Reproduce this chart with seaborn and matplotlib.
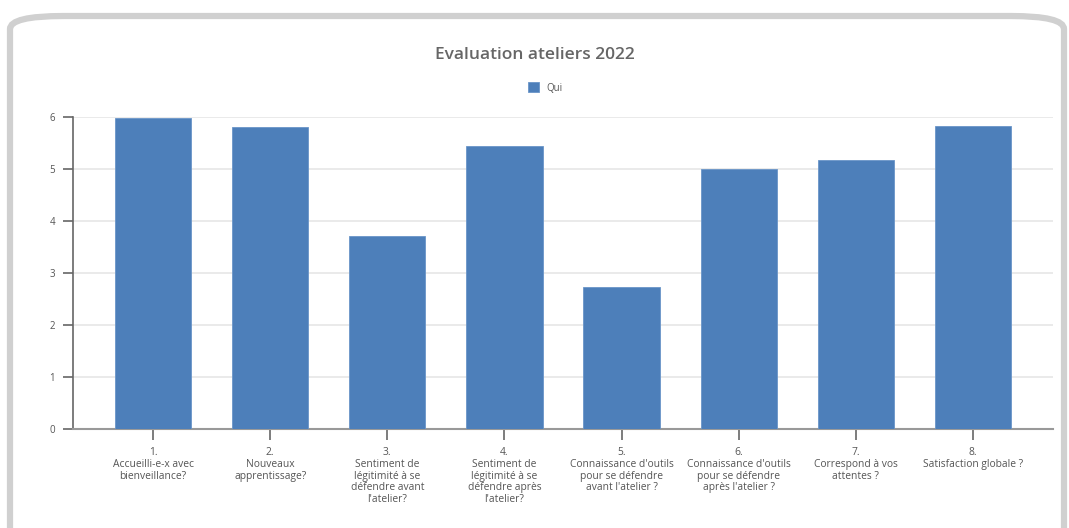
import matplotlib
matplotlib.use("Agg")
import matplotlib.pyplot as plt
import seaborn as sns
import pandas as pd
from matplotlib.patches import FancyBboxPatch

categories = [
    "1.\nAccueilli-e-x avec\nbienveillance?",
    "2.\nNouveaux\napprentissage?",
    "3.\nSentiment de\nlégitimité à se\ndéfendre avant\nl'atelier?",
    "4.\nSentiment de\nlégitimité à se\ndéfendre après\nl'atelier?",
    "5.\nConnaissance d'outils\npour se défendre\navant l'atelier ?",
    "6.\nConnaissance d'outils\npour se défendre\naprès l'atelier ?",
    "7.\nCorrespond à vos\nattentes ?",
    "8.\nSatisfaction globale ?",
]
values = [5.98, 5.81, 3.71, 5.44, 2.73, 5.0, 5.17, 5.82]
series_name = "Qui"
title = "Evaluation ateliers 2022"
yticks = [0, 1, 2, 3, 4, 5, 6]

sns.set_style("white")
plt.rcParams['font.family'] = ['Open Sans', 'DejaVu Sans']

df = pd.DataFrame({"cat": categories, "val": values})

fig = plt.figure(figsize=(10.69, 5.28), dpi=100)
ax = fig.add_axes([73/1069, 1-429/528, (1053-73)/1069, (429-117)/528])

# outer rounded frame
frame = FancyBboxPatch((10/1069, -0.2), (1064-10)/1069, 1.2 - 16/528,
                       boxstyle="round,pad=0,rounding_size=0.05",
                       transform=fig.transFigure, facecolor="white",
                       edgecolor="#d0d0d0", linewidth=4.5, zorder=-10,
                       mutation_aspect=528/1069)
fig.patches.append(frame)

sns.barplot(data=df, x="cat", y="val", color="#4d7fba", saturation=1,
            width=0.65, ax=ax, label=series_name, zorder=3,
            edgecolor="#6a95c8", linewidth=0.6)

ax.set_xlim(-0.683, 7.683)
ax.set_ylim(0, 6)
ax.set_yticks(yticks)
ax.set_xlabel("")
ax.set_ylabel("")
ax.grid(axis="y", color="#e6e6e6", linewidth=1.2, zorder=0)
ax.set_axisbelow(True)
for s in ["top", "right"]:
    ax.spines[s].set_visible(False)
ax.spines["left"].set_color("#666666")
ax.spines["bottom"].set_color("#999999")
ax.spines["left"].set_linewidth(1.2)
ax.spines["bottom"].set_linewidth(1.5)
ax.tick_params(axis="y", length=7, width=1.2, color="#666666", labelsize=7,
               labelcolor="#555555", pad=6, left=True)
ax.tick_params(axis="x", length=8, width=1.2, color="#666666", labelsize=7.4,
               labelcolor="#555555", pad=5, bottom=True)
for lbl in ax.get_xticklabels():
    lbl.set_linespacing(1.1)
    lbl.set_ha("center")

fig.text(0.5, 1-55/528, title, ha="center", va="center", fontsize=12.5,
         fontweight="semibold", color="#666666")

handles, labels = ax.get_legend_handles_labels()
leg = fig.legend(handles, labels, loc="center", bbox_to_anchor=(0.51, 1-88/528),
                 frameon=False, fontsize=7, handlelength=1.15, handleheight=1.15,
                 handletextpad=0.7)
for t in leg.get_texts():
    t.set_color("#555555")
if ax.get_legend():
    ax.get_legend().remove()

fig.savefig("out.png", dpi=100, facecolor="white")
